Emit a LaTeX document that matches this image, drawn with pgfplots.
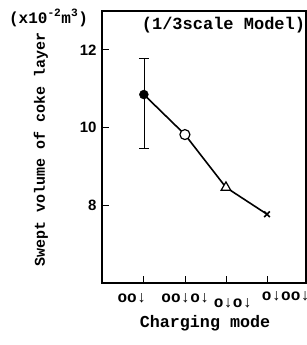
\documentclass[border=0pt]{standalone}
\usepackage{fontspec}
\setmainfont{Liberation Mono}
\newfontfamily\numfont{Liberation Sans}
\usepackage{pgfplots}
\pgfplotsset{compat=1.18}
\begin{document}
\begin{tikzpicture}
\useasboundingbox (-102pt,-62pt) rectangle (205pt,283pt);
\begin{axis}[at={(0pt,0pt)}, anchor=south west, scale only axis,
  width=204pt, height=272pt,
  xmin=-1.02, xmax=3.95, ymin=6, ymax=13,
  xtick={0,1,2,3}, xticklabels={{},{},{},{}},
  ytick={8,10,12},
  tick align=inside, xtick pos=bottom, ytick pos=left,
  major tick length=7pt, tick style={black, line width=0.8pt},
  axis line style={line width=1.6pt},
  yticklabel style={font=\numfont\bfseries\fontsize{15}{15}\selectfont, xshift=-2pt},
  /pgf/number format/assume math mode=true,
  clip=false]
\addplot[black, line width=1.6pt] coordinates {(0,10.85)(1,9.82)(2,8.46)(3,7.77)};
\addplot[black, only marks, mark=*, mark size=4.5pt,
  error bars/.cd, y dir=both, y explicit,
  error bar style={line width=0.7pt},
  error mark options={rotate=90, mark size=5pt, line width=0.7pt}]
  coordinates {(0,10.85) += (0,0.92) -= (0,1.39)};
\addplot[only marks, mark=*, mark size=5pt, mark options={fill=white, draw=black, line width=1.2pt}] coordinates {(1,9.82)};
\addplot[only marks, mark=triangle*, mark size=5.5pt, mark options={fill=white, draw=black, line width=1.2pt}] coordinates {(2,8.46)};
\addplot[only marks, mark=x, mark size=4pt, mark options={draw=black, line width=1.6pt}] coordinates {(3,7.77)};
\end{axis}
\node[font=\bfseries\fontsize{17}{17}\selectfont] at (121.5pt,258pt) {(1/3scale Model)};
\node[font=\bfseries\fontsize{16}{16}\selectfont, inner sep=0pt] at (-53.5pt,265pt) {(x10\textsuperscript{-2}m\textsuperscript{3})};
\node[font=\bfseries\fontsize{15}{15}\selectfont, rotate=90] at (-61pt,134pt) {Swept volume of coke layer};
\node[font=\bfseries\fontsize{16.7}{16.7}\selectfont] at (103pt,-40pt) {Charging mode};
\node[font=\bfseries\fontsize{16}{16}\selectfont] at (30pt,-15pt) {oo↓};
\node[font=\bfseries\fontsize{16}{16}\selectfont] at (83.5pt,-15pt) {oo↓o↓};
\node[font=\bfseries\fontsize{16}{16}\selectfont] at (131pt,-20pt) {o↓o↓};
\node[font=\bfseries\fontsize{16}{16}\selectfont] at (184pt,-13pt) {o↓oo↓};
\end{tikzpicture}
\end{document}
